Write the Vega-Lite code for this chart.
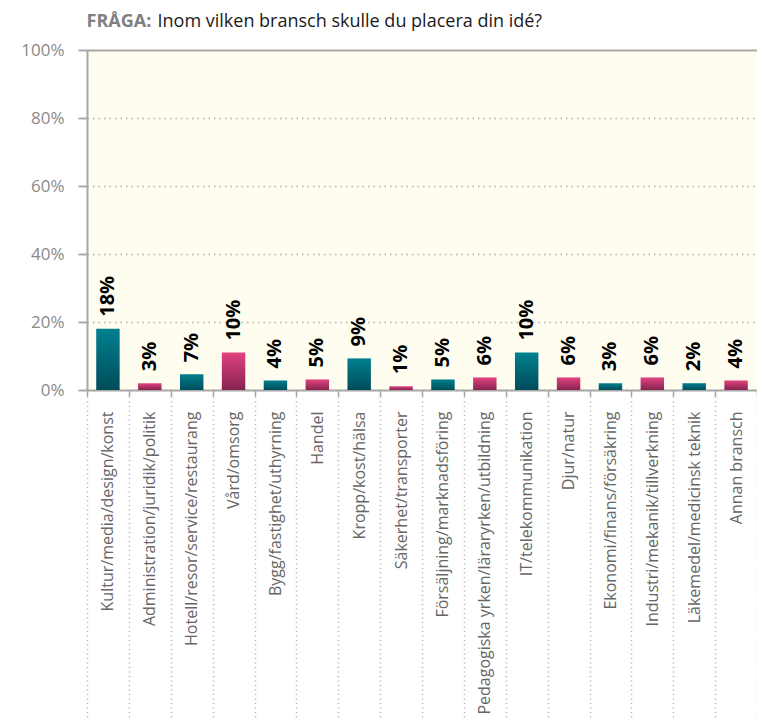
{
  "$schema": "https://vega.github.io/schema/vega-lite/v6.json",
  "width": 670,
  "height": 340,
  "autosize": "none",
  "padding": {"left": 87, "top": 50, "right": 0, "bottom": 331},
  "background": "#ffffff",
  "data": {
    "values": [
      {"bransch": "Kultur/media/design/konst", "andel": 18.0, "etikett": "18%"},
      {"bransch": "Administration/juridik/politik", "andel": 2.0, "etikett": "3%"},
      {"bransch": "Hotell/resor/service/restaurang", "andel": 4.6, "etikett": "7%"},
      {"bransch": "Vård/omsorg", "andel": 11.0, "etikett": "10%"},
      {"bransch": "Bygg/fastighet/uthyrning", "andel": 2.8, "etikett": "4%"},
      {"bransch": "Handel", "andel": 3.1, "etikett": "5%"},
      {"bransch": "Kropp/kost/hälsa", "andel": 9.3, "etikett": "9%"},
      {"bransch": "Säkerhet/transporter", "andel": 1.1, "etikett": "1%"},
      {"bransch": "Försäljning/marknadsföring", "andel": 3.1, "etikett": "5%"},
      {"bransch": "Pedagogiska yrken/läraryrken/utbildning", "andel": 3.7, "etikett": "6%"},
      {"bransch": "IT/telekommunikation", "andel": 11.0, "etikett": "10%"},
      {"bransch": "Djur/natur", "andel": 3.7, "etikett": "6%"},
      {"bransch": "Ekonomi/finans/försäkring", "andel": 2.0, "etikett": "3%"},
      {"bransch": "Industri/mekanik/tillverkning", "andel": 3.7, "etikett": "6%"},
      {"bransch": "Läkemedel/medicinsk teknik", "andel": 2.0, "etikett": "2%"},
      {"bransch": "Annan bransch", "andel": 2.8, "etikett": "4%"}
    ]
  },
  "transform": [
    {"window": [{"op": "row_number", "as": "nr"}]}
  ],
  "encoding": {
    "x": {
      "field": "bransch",
      "type": "nominal",
      "sort": null,
      "scale": {"paddingInner": 0, "paddingOuter": 0},
      "axis": {
        "title": "FRÅGA:",
        "titleAngle": 0,
        "titleAlign": "left",
        "titleBaseline": "alphabetic",
        "titleX": -1,
        "titleY": -364,
        "titleFont": "Open Sans",
        "titleFontSize": 18,
        "titleFontWeight": "bold",
        "titleColor": "#808080",
        "labelAngle": -90,
        "labelFont": "Open Sans",
        "labelFontSize": 16,
        "labelColor": "#666666",
        "labelPadding": -309,
        "labelLimit": 400,
        "tickBand": "extent",
        "tickSize": 330,
        "tickColor": "#a8a8a8",
        "tickWidth": 1.5,
        "tickDash": [7, 4, 1, 3.5, 1, 3.5, 1, 3.5, 1, 3.5, 1, 3.5, 1, 3.5, 1, 3.5, 1, 3.5, 1, 3.5, 1, 3.5, 1, 3.5, 1, 3.5, 1, 3.5, 1, 3.5, 1, 3.5, 1, 3.5, 1, 3.5, 1, 3.5, 1, 3.5, 1, 3.5, 1, 3.5, 1, 3.5, 1, 3.5, 1, 3.5, 1, 3.5, 1, 3.5, 1, 3.5, 1, 3.5, 1, 3.5, 1, 3.5, 1, 3.5, 1, 3.5, 1, 3.5, 1, 3.5, 1, 3.5, 1, 3.5, 1, 3.5, 1, 3.5, 1, 3.5, 1, 3.5, 1, 3.5, 1, 3.5, 1, 3.5, 1, 3.5, 1, 3.5, 1, 3.5, 1, 3.5, 1, 3.5, 1, 3.5, 1, 3.5, 1, 3.5, 1, 3.5, 1, 3.5, 1, 3.5, 1, 3.5, 1, 3.5, 1, 3.5, 1, 3.5, 1, 3.5, 1, 3.5, 1, 3.5, 1, 3.5, 1, 3.5, 1, 3.5, 1, 3.5, 1, 3.5, 1, 3.5, 1, 3.5, 1, 3.5, 1, 3.5, 1, 3.5, 1, 3.5, 1, 3.5, 1, 3.5, 1, 3.5, 1, 3.5, 1, 3.5, 1, 3.5, 1, 3.5, 1, 3.5, 1, 3.5, 1, 3.5, 1, 3.5, 1, 3.5, 1, 3.5, 1, 3.5, 1, 3.5, 1, 3.5, 1, 3.5, 1, 3.5, 1, 3.5, 1, 3.5, 1, 3.5, 1, 3.5, 1, 3.5, 1, 3.5, 1, 3.5, 1, 3.5, 1, 3.5, 1, 3.5, 1, 3.5, 1, 3.5, 1, 3.5, 1, 3.5],
        "domainColor": "#a8a8a8",
        "domainWidth": 2,
        "grid": false
      }
    },
    "y": {
      "field": "andel",
      "type": "quantitative",
      "scale": {"domain": [0, 100], "nice": false},
      "axis": {
        "title": "Inom vilken bransch skulle du placera din idé?",
        "titleAngle": 0,
        "titleAlign": "left",
        "titleBaseline": "alphabetic",
        "titleX": 70,
        "titleY": -24,
        "titleFont": "Open Sans",
        "titleFontSize": 18,
        "titleFontWeight": "normal",
        "titleColor": "#1a1a1a",
        "values": [0, 20, 40, 60, 80, 100],
        "labelExpr": "datum.value + '%'",
        "labelFont": "Open Sans",
        "labelFontSize": 17,
        "labelColor": "#8a8a8a",
        "labelPadding": 14,
        "tickSize": 9,
        "tickColor": "#a8a8a8",
        "tickWidth": 2,
        "domainColor": "#a8a8a8",
        "domainWidth": 2,
        "grid": true,
        "gridColor": {"condition": {"test": "datum.value == 100", "value": "#a8a8a8"}, "value": "#b0b0b0"},
        "gridWidth": {"condition": {"test": "datum.value == 100", "value": 2}, "value": 1.5},
        "gridDash": {"condition": {"test": "datum.value == 100", "value": []}, "value": [1.5, 4]}
      }
    }
  },
  "layer": [
    {
      "mark": {"type": "bar", "width": {"band": 0.56}},
      "encoding": {
        "fill": {
          "condition": {
            "test": "datum.nr % 2 == 1",
            "value": {
              "gradient": "linear",
              "x1": 0, "y1": 0, "x2": 0, "y2": 1,
              "stops": [
                {"offset": 0, "color": "#00808f"},
                {"offset": 1, "color": "#004c59"}
              ]
            }
          },
          "value": {
            "gradient": "linear",
            "x1": 0, "y1": 0, "x2": 0, "y2": 1,
            "stops": [
              {"offset": 0, "color": "#e2437f"},
              {"offset": 1, "color": "#86224f"}
            ]
          }
        }
      }
    },
    {
      "mark": {
        "type": "text",
        "angle": 270,
        "align": "left",
        "baseline": "middle",
        "dx": 12,
        "font": "Open Sans",
        "fontSize": 20,
        "fontWeight": "bold",
        "color": "#000000"
      },
      "encoding": {
        "text": {"field": "etikett"}
      }
    }
  ],
  "config": {
    "view": {"stroke": null, "fill": "#fffdf0"}
  }
}
